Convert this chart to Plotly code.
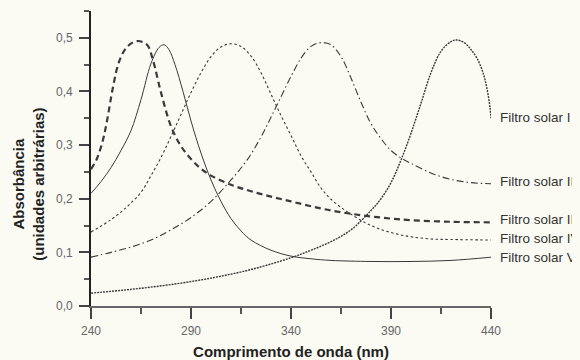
import plotly.graph_objects as go

# Filtro solar I (dense dotted)
x1 = [240, 260, 280, 300, 320, 340, 350, 360, 370, 380, 385, 390, 395, 400, 405, 410, 415, 420, 423, 427, 430, 433, 436, 438, 439.5, 440]
y1 = [0.024, 0.031, 0.040, 0.052, 0.068, 0.090, 0.104, 0.120, 0.142, 0.178, 0.200, 0.230, 0.272, 0.322, 0.378, 0.435, 0.475, 0.493, 0.496, 0.490, 0.478, 0.462, 0.435, 0.405, 0.370, 0.350]

# Filtro solar II (dash-dot)
x2 = [240, 250, 260, 270, 280, 290, 300, 310, 318, 325, 330, 335, 340, 345, 350, 355, 360, 365, 370, 375, 380, 385, 390, 395, 400, 410, 420, 430, 440]
y2 = [0.091, 0.100, 0.110, 0.123, 0.142, 0.165, 0.195, 0.235, 0.272, 0.315, 0.352, 0.390, 0.428, 0.462, 0.484, 0.491, 0.487, 0.465, 0.425, 0.380, 0.340, 0.312, 0.290, 0.276, 0.266, 0.248, 0.236, 0.230, 0.228]

# Filtro solar III (thick dashed)
x3 = [240, 243, 246, 248, 251, 254, 258, 263, 268, 271, 275, 280, 285, 290, 295, 300, 310, 320, 330, 340, 350, 360, 370, 380, 390, 400, 420, 440]
y3 = [0.255, 0.275, 0.310, 0.345, 0.408, 0.455, 0.483, 0.494, 0.487, 0.458, 0.398, 0.335, 0.298, 0.274, 0.256, 0.243, 0.226, 0.214, 0.204, 0.195, 0.186, 0.178, 0.172, 0.167, 0.163, 0.160, 0.157, 0.156]

# Filtro solar IV (fine dotted)
x4 = [240, 250, 258, 265, 270, 275, 280, 285, 290, 295, 300, 305, 310, 315, 320, 325, 330, 335, 340, 345, 350, 355, 360, 368, 380, 390, 400, 410, 420, 440]
y4 = [0.138, 0.161, 0.185, 0.212, 0.243, 0.277, 0.316, 0.357, 0.398, 0.435, 0.465, 0.483, 0.489, 0.484, 0.466, 0.435, 0.395, 0.355, 0.318, 0.280, 0.250, 0.220, 0.199, 0.176, 0.150, 0.137, 0.129, 0.125, 0.124, 0.123]

# Filtro solar V (thin solid)
x5 = [240, 245, 250, 255, 260, 265, 270, 274, 276.5, 279, 282, 286, 290, 295, 300, 305, 310, 315, 320, 330, 340, 350, 360, 380, 400, 420, 440]
y5 = [0.210, 0.232, 0.258, 0.290, 0.327, 0.385, 0.452, 0.482, 0.487, 0.478, 0.450, 0.400, 0.345, 0.285, 0.235, 0.195, 0.163, 0.140, 0.123, 0.104, 0.093, 0.088, 0.085, 0.083, 0.083, 0.085, 0.091]

labels = ["Filtro solar I", "Filtro solar II", "Filtro solar III", "Filtro solar IV", "Filtro solar V"]
label_y = [0.351, 0.233, 0.162, 0.125, 0.091]

x_ticks = [240, 290, 340, 390, 440]
y_ticks = [0.0, 0.1, 0.2, 0.3, 0.4, 0.5]

ink = "#3a3a3a"
series = [
    (x1, y1, dict(color=ink, width=1.4, dash="2px,1px")),
    (x2, y2, dict(color=ink, width=1.1, dash="7px,3px,1.5px,3px")),
    (x3, y3, dict(color=ink, width=2.2, dash="6px,4px")),
    (x4, y4, dict(color=ink, width=1.1, dash="2.5px,2.5px")),
    (x5, y5, dict(color=ink, width=1.0)),
]

fig = go.Figure()
for (xs, ys, ln), name in zip(series, labels):
    fig.add_trace(go.Scatter(x=xs, y=ys, mode="lines", name=name,
                             line=dict(shape="spline", smoothing=1.0, **ln),
                             showlegend=False, cliponaxis=False))

for name, ly in zip(labels, label_y):
    fig.add_annotation(x=1, xref="paper", y=ly, yref="y", text=name,
                       showarrow=False, xanchor="left", xshift=7,
                       font=dict(family="Liberation Sans, Arial", size=13.5, color="#333"))

# y-axis title as annotation (placed lower than the plot centre, as in the reference)
fig.add_annotation(x=0, xref="paper", y=0.226, yref="y", xanchor="center", yanchor="middle",
                   xshift=-62, textangle=-90, showarrow=False, align="center",
                   text="<b>Absorbância<br>(unidades arbitrárias)</b>",
                   font=dict(family="Liberation Sans, Arial", size=15, color="#222"))

bg = "#fbfbf4"
fig.update_layout(
    width=572, height=352,
    margin=dict(l=83, r=89, t=3, b=54),
    paper_bgcolor=bg, plot_bgcolor=bg,
    separators=",.",
    font=dict(family="Liberation Sans, Arial", size=12, color="#666"),
    xaxis=dict(range=[240, 440], tickvals=x_ticks, ticks="outside", ticklen=11,
               tickwidth=1.5, tickcolor="#444", showline=True, linecolor="#666",
               linewidth=2, showgrid=False, zeroline=False, ticklabelstandoff=2,
               automargin=False,
               minor=dict(dtick=25, tick0=240, ticks="outside", ticklen=6,
                          tickwidth=1.5, tickcolor="#555"),
               title=dict(text="<b>Comprimento de onda (nm)</b>", standoff=10,
                          font=dict(size=15, color="#222"))),
    yaxis=dict(range=[0, 0.55], tickvals=y_ticks, tickformat=".1f", ticks="outside",
               ticklen=10, tickwidth=1.5, tickcolor="#444", showline=True,
               linecolor="#222", linewidth=1.8, showgrid=False, zeroline=False,
               ticklabelstandoff=4, automargin=False,
               minor=dict(dtick=0.05, tick0=0, ticks="outside", ticklen=5,
                          tickwidth=1.5, tickcolor="#555")),
)

fig.write_html("out.html", post_script="document.body.style.background='#fbfbf4';")
